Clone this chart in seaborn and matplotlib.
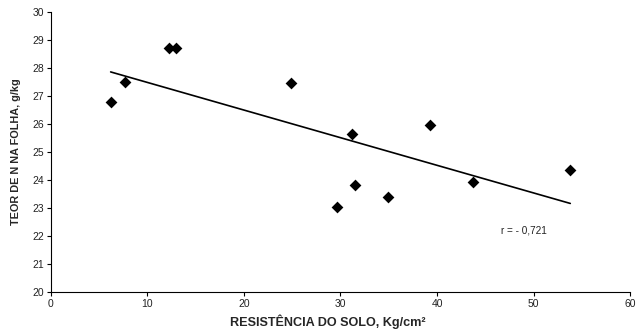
import matplotlib
matplotlib.use("Agg")
import matplotlib.pyplot as plt
import seaborn as sns
import numpy as np
import pandas as pd

resistencia = [6.2, 7.7, 12.2, 12.95, 24.9, 29.6, 31.2, 31.5, 34.9, 39.3, 43.7, 53.8]
teor_n = [26.8, 27.5, 28.72, 28.72, 27.45, 23.02, 25.65, 23.82, 23.4, 25.95, 23.92, 24.37]
x_ticks = [0, 10, 20, 30, 40, 50, 60]
y_ticks = [20, 21, 22, 23, 24, 25, 26, 27, 28, 29, 30]

df = pd.DataFrame({"x": resistencia, "y": teor_n})

sns.set_theme(style="white")
plt.rcParams["font.family"] = ["Liberation Sans", "DejaVu Sans"]

fig, ax = plt.subplots(figsize=(6.43, 3.36), dpi=100)
fig.subplots_adjust(left=0.079, right=0.98, top=0.964, bottom=0.131)

sns.regplot(data=df, x="x", y="y", ax=ax, ci=None, truncate=True,
            marker="D", scatter_kws={"s": 36, "color": "black", "alpha": 1, "linewidths": 0},
            line_kws={"color": "black", "linewidth": 1.2})

ax.set_xlim(0, 60)
ax.set_ylim(20, 30)
ax.set_xticks(x_ticks)
ax.set_yticks(y_ticks)
ax.tick_params(axis="both", labelsize=7.5, direction="out", length=3, width=0.8,
               color="black", labelcolor="#222222", left=True, bottom=True, pad=2)
for side in ["top", "right"]:
    ax.spines[side].set_visible(False)
for side in ["left", "bottom"]:
    ax.spines[side].set_color("black")
    ax.spines[side].set_linewidth(0.8)

ax.set_xlabel("RESISTÊNCIA DO SOLO, Kg/cm²", fontsize=9.1, fontweight="bold")
ax.xaxis.set_label_coords(0.478, -0.082)
ax.set_ylabel("TEOR DE N NA FOLHA, g/kg", fontsize=7.8, fontweight="bold", labelpad=8)
ax.text(46.6, 22.2, "r = - 0,721", fontsize=7.2, va="center", ha="left", color="#222222")

fig.savefig("out.png", dpi=100)
